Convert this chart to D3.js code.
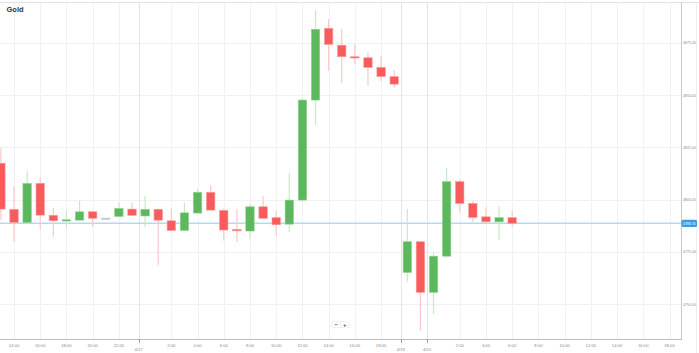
<!DOCTYPE html>
<html>
<head>
<meta charset="utf-8">
<script src="https://cdn.jsdelivr.net/npm/d3@7"></script>
<style>
html,body{margin:0;padding:0;background:#fff;overflow:hidden;}
svg{display:block;font-family:"Liberation Sans",Arial,sans-serif;}
</style>
</head>
<body>
<svg id="chart" width="699" height="353"></svg>
<script>
// ---- data (hourly candles, slot index = array index) ----
const opens  = [4817.4,4795.4,4789.1,4807.8,4792.5,4789.9,4790.2,4794.2,4791.2,4792.0,
                4795.5,4792.2,4795.4,4789.9,4785.3,4793.6,4803.5,4794.9,4785.8,4785.0,
                4796.6,4791.4,4788.3,4799.8,4847.6,4881.9,4873.8,4868.3,4867.8,4863.2,
                4858.8,4765.2,4779.9,4755.7,4773.0,4808.6,4798.2,4791.8,4789.4,4791.4];
const highs  = [4824.7,4806.2,4813.7,4810.7,4796.1,4795.0,4799.5,4794.2,4791.2,4798.7,
                4798.5,4801.7,4795.8,4795.4,4798.7,4805.1,4806.8,4795.8,4795.4,4797.9,
                4801.7,4794.6,4812.6,4848.4,4890.6,4886.3,4881.4,4874.2,4870.4,4868.6,
                4862.0,4795.5,4779.9,4774.8,4815.0,4809.7,4799.3,4796.3,4796.8,4794.7];
const lows   = [4790.2,4779.9,4789.1,4785.8,4782.3,4786.6,4790.2,4787.0,4791.2,4792.0,
                4792.5,4786.8,4768.7,4785.3,4785.3,4793.6,4795.0,4780.4,4779.6,4781.5,
                4791.1,4782.7,4784.4,4798.7,4835.7,4861.6,4855.9,4864.7,4854.4,4856.7,
                4853.5,4760.8,4737.3,4745.3,4772.4,4793.9,4789.4,4788.2,4780.7,4786.8];
const closes = [4795.5,4789.1,4807.8,4792.6,4789.9,4790.4,4794.2,4791.1,4791.2,4795.8,
                4792.5,4795.4,4790.2,4785.3,4793.7,4803.5,4795.0,4785.5,4785.1,4796.6,
                4791.1,4788.0,4799.8,4847.6,4881.4,4874.2,4868.3,4867.7,4863.2,4858.8,
                4855.2,4779.9,4755.7,4773.0,4808.6,4798.2,4791.5,4789.4,4791.4,4788.7];
const currentPrice = 4788.70;

// x-axis ticks (slot positions) and labels
const hourTickSlots  = [1,3,5,7,9,13,15,17,19,21,23,25,27,29,35,37,39,41,43,45,47,49,51];
const hourTickLabels = ["14:00","16:00","18:00","20:00","22:00","2:00","4:00","6:00","8:00","10:00",
                        "12:00","14:00","16:00","18:00","2:00","4:00","6:00","8:00","10:00","12:00",
                        "14:00","16:00","18:00"];
const dateTickSlots  = [10.5,30.5,32.5];
const dateTickLabels = ["4/17","4/19","4/20"];
const yTicks = [4750,4775,4800,4825,4850,4875];
const title = "Gold";

// ---- drawing ----
const svg = d3.select("#chart");
const W = 699, H = 353;
const plotRight = 681, plotTop = 2, plotBottom = 339;

const x = d3.scaleLinear().domain([0,51]).range([0.9,669.5]);
const y = d3.scaleLinear().domain([4750,4875]).range([304.3,42.7]);

const candles = opens.map((o,i)=>({i,o,h:highs[i],l:lows[i],c:closes[i]}));

svg.append("rect").attr("width",W).attr("height",H).attr("fill","#fff");

svg.append("defs").append("clipPath").attr("id","pc")
  .append("rect").attr("x",0).attr("y",plotTop).attr("width",plotRight).attr("height",plotBottom-plotTop);

// horizontal grid
svg.append("g").selectAll("line").data(yTicks).join("line")
  .attr("x1",0).attr("x2",plotRight)
  .attr("y1",d=>Math.round(y(d))+0.5).attr("y2",d=>Math.round(y(d))+0.5)
  .attr("stroke","#f1f1f1").attr("stroke-width",1);

// vertical grid
svg.append("g").selectAll("line").data(hourTickSlots).join("line")
  .attr("x1",d=>Math.round(x(d))+0.5).attr("x2",d=>Math.round(x(d))+0.5)
  .attr("y1",plotTop).attr("y2",plotBottom)
  .attr("stroke","#f1f1f1").attr("stroke-width",1);
svg.append("g").selectAll("line").data(dateTickSlots).join("line")
  .attr("x1",d=>Math.round(x(d))+0.5).attr("x2",d=>Math.round(x(d))+0.5)
  .attr("y1",plotTop).attr("y2",plotBottom)
  .attr("stroke","#e4e4e4").attr("stroke-width",1);

// borders
svg.append("line").attr("x1",0).attr("x2",W).attr("y1",plotTop+0.5).attr("y2",plotTop+0.5)
  .attr("stroke","#e2e2e2");
svg.append("line").attr("x1",plotRight+0.5).attr("x2",plotRight+0.5).attr("y1",plotTop).attr("y2",plotBottom)
  .attr("stroke","#c8c8c8");
svg.append("line").attr("x1",0).attr("x2",plotRight+1).attr("y1",plotBottom+0.5).attr("y2",plotBottom+0.5)
  .attr("stroke","#bdbdbd");
svg.append("line").attr("x1",W-2.5).attr("x2",W-2.5).attr("y1",plotTop).attr("y2",H)
  .attr("stroke","#eeeeee");

// current price line
svg.append("line").attr("x1",0).attr("x2",plotRight)
  .attr("y1",y(currentPrice)).attr("y2",y(currentPrice))
  .attr("stroke","#b3daf5").attr("stroke-width",1.5);

// candles
const gC = svg.append("g").attr("clip-path","url(#pc)");
const bw = 8.4;
const colorOf = d => d.c > d.o ? "up" : (d.c < d.o ? "down" : "flat");
const bodyFill = {up:"#5cb85c", down:"#f75b5b", flat:"#bdbdbd"};
const bodyStroke = {up:"#8fd18f", down:"#fb9898", flat:"#cfcfcf"};
const wickCol = {up:"#c8e8c8", down:"#fbc8c8", flat:"#d8d8d8"};

gC.selectAll("line.wick").data(candles).join("line").attr("class","wick")
  .attr("x1",d=>x(d.i)).attr("x2",d=>x(d.i))
  .attr("y1",d=>y(d.h)).attr("y2",d=>y(d.l))
  .attr("stroke",d=>wickCol[colorOf(d)]).attr("stroke-width",1.2);

gC.selectAll("rect.body").data(candles).join("rect").attr("class","body")
  .attr("x",d=>x(d.i)-bw/2)
  .attr("width",bw)
  .attr("y",d=>y(Math.max(d.o,d.c)))
  .attr("height",d=>Math.max(1.3, Math.abs(y(d.o)-y(d.c))))
  .attr("fill",d=>bodyFill[colorOf(d)])
  .attr("stroke",d=>bodyStroke[colorOf(d)]).attr("stroke-width",0.6);

// y-axis labels
svg.append("g").selectAll("text").data(yTicks).join("text")
  .attr("x",683).attr("y",d=>y(d)).attr("dy","0.35em")
  .attr("font-size",4.3).attr("fill","#8a8a8a")
  .attr("textLength",13).attr("lengthAdjust","spacingAndGlyphs")
  .text(d=>d3.format(".2f")(d));

// current price badge
const cp = svg.append("g");
cp.append("rect").attr("x",plotRight+0.5).attr("y",y(currentPrice)-3.6)
  .attr("width",15.5).attr("height",7.2).attr("rx",1.5).attr("fill","#3a9be6");
cp.append("text").attr("x",683).attr("y",y(currentPrice)).attr("dy","0.35em")
  .attr("font-size",4.3).attr("fill","#fff")
  .attr("textLength",12.5).attr("lengthAdjust","spacingAndGlyphs")
  .text(d3.format(".2f")(currentPrice));

// x-axis labels
svg.append("g").selectAll("text").data(hourTickSlots).join("text")
  .attr("x",d=>x(d)).attr("y",345.3).attr("text-anchor","middle").attr("dy","0.35em")
  .attr("font-size",4.2).attr("fill","#8a8a8a")
  .text((d,i)=>hourTickLabels[i]);
svg.append("g").selectAll("line").data(dateTickSlots).join("line")
  .attr("x1",d=>Math.round(x(d))+0.5).attr("x2",d=>Math.round(x(d))+0.5)
  .attr("y1",plotBottom).attr("y2",plotBottom+4)
  .attr("stroke","#9a9a9a");
svg.append("g").selectAll("text").data(dateTickSlots).join("text")
  .attr("x",d=>x(d)).attr("y",349.8).attr("text-anchor","middle").attr("dy","0.35em")
  .attr("font-size",4.2).attr("fill","#8a8a8a")
  .text((d,i)=>dateTickLabels[i]);

// title
svg.append("text").attr("x",6.5).attr("y",12).attr("font-size",7.5).attr("font-weight","bold")
  .attr("fill","#333").text(title);

// zoom control
const zc = svg.append("g").attr("transform","translate(331.5,321)");
zc.append("rect").attr("width",18).attr("height",7).attr("fill","#efefef").attr("rx",1);
zc.append("rect").attr("x",1).attr("y",0.8).attr("width",7.5).attr("height",5.4).attr("fill","#fff");
zc.append("rect").attr("x",9.5).attr("y",0.8).attr("width",7.5).attr("height",5.4).attr("fill","#fff");
zc.append("text").attr("x",4.75).attr("y",3.6).attr("dy","0.35em").attr("text-anchor","middle")
  .attr("font-size",6).attr("font-weight","bold").attr("fill","#555").text("−");
zc.append("text").attr("x",13.25).attr("y",3.6).attr("dy","0.35em").attr("text-anchor","middle")
  .attr("font-size",6).attr("font-weight","bold").attr("fill","#555").text("+");
</script>
</body>
</html>
